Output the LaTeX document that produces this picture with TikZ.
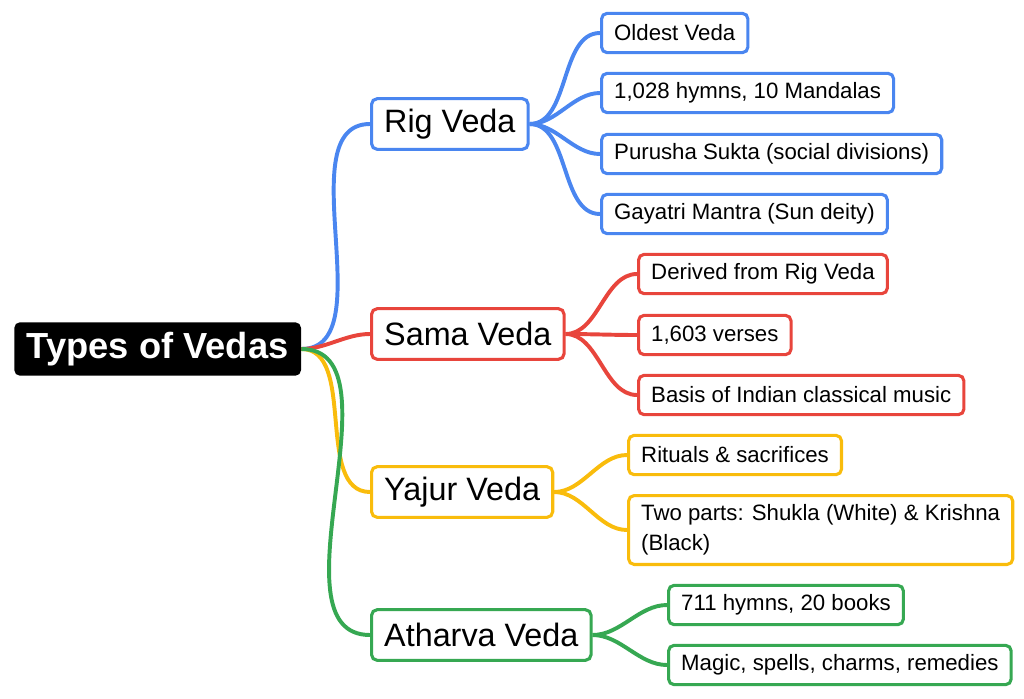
\documentclass[tikz,border=0pt]{standalone}
\usepackage{fontspec}
\setmainfont{Liberation Sans}
\usetikzlibrary{positioning, backgrounds}
\definecolor{rigc}{HTML}{4A86F0}
\definecolor{samac}{HTML}{E8453C}
\definecolor{yajurc}{HTML}{F9BC0C}
\definecolor{athc}{HTML}{36A852}

\begin{document}
\begin{tikzpicture}[x=0.025cm, y=-0.025cm,
    rootbox/.style={fill=black, text=white, rounded corners=4pt, font=\fontsize{25.8}{30}\selectfont\bfseries, minimum height=38pt, inner xsep=9pt, anchor=west},
    midbox/.style={draw=#1, line width=2.2pt, fill=white, rounded corners=4pt, font=\fontsize{23}{27}\selectfont, minimum height=36pt, inner xsep=9pt, anchor=west},
    leafbox/.style={draw=#1, line width=2.2pt, fill=white, rounded corners=4pt, font=\fontsize{15.8}{21}\selectfont, minimum height=28pt, inner xsep=9pt, anchor=west},
    link/.style={draw=#1, line width=2.8pt, out=0, in=180, looseness=0.9}]
    \useasboundingbox (0,0) rectangle (1024,698);

    % Root
    \node[rootbox] (root) at (14,349) {Types of Vedas};

    % Branches
    \node[midbox=rigc] (rig) at (370,124) {Rig Veda};
    \node[midbox=samac] (sama) at (370,334) {Sama Veda};
    \node[midbox=yajurc] (yajur) at (370,492) {Yajur Veda};
    \node[midbox=athc] (atharva) at (370,635) {Atharva Veda};

    % Leaves
    \node[leafbox=rigc] (rig1) at (600,33) {Oldest Veda};
    \node[leafbox=rigc] (rig2) at (600,93) {1,028 hymns, 10 Mandalas};
    \node[leafbox=rigc] (rig3) at (600,154) {Purusha Sukta (social divisions)};
    \node[leafbox=rigc] (rig4) at (600,214) {Gayatri Mantra (Sun deity)};
    \node[leafbox=samac] (sama1) at (637,274) {Derived from Rig Veda};
    \node[leafbox=samac] (sama2) at (637,335) {1,603 verses};
    \node[leafbox=samac] (sama3) at (637,395) {Basis of Indian classical music};
    \node[leafbox=yajurc] (yajur1) at (627,455) {Rituals \& sacrifices};
    \node[leafbox=yajurc, align=left, minimum height=49pt] (yajur2) at (627,530) {Two parts: Shukla (White) \& Krishna\\(Black)};
    \node[leafbox=athc] (ath1) at (667,605) {711 hymns, 20 books};
    \node[leafbox=athc] (ath2) at (667,665) {Magic, spells, charms, remedies};

    % Connectors
    \begin{scope}[on background layer]
    \draw[link=rigc] (root.east) to (rig.west);
    \draw[link=samac] (root.east) to (sama.west);
    \draw[link=yajurc] (root.east) to (yajur.west);
    \draw[link=athc] (root.east) to (atharva.west);
    \foreach \l in {rig1,rig2,rig3,rig4} \draw[link=rigc] (rig.east) to (\l.west);
    \foreach \l in {sama1,sama2,sama3} \draw[link=samac] (sama.east) to (\l.west);
    \foreach \l in {yajur1,yajur2} \draw[link=yajurc] (yajur.east) to (\l.west);
    \foreach \l in {ath1,ath2} \draw[link=athc] (atharva.east) to (\l.west);
    \end{scope}
\end{tikzpicture}
\end{document}
